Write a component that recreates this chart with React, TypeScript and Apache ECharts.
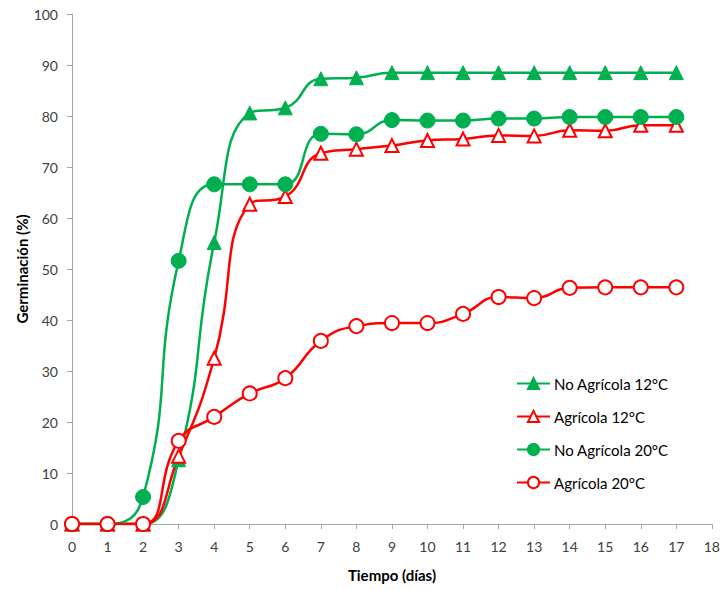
import React, { useEffect, useRef } from "react";
import * as echarts from "echarts";

const days = [0, 1, 2, 3, 4, 5, 6, 7, 8, 9, 10, 11, 12, 13, 14, 15, 16, 17];
const noAgr12 = [0, 0, 0, 12.6, 55.2, 80.6, 81.6, 87.3, 87.5, 88.5, 88.5, 88.5, 88.5, 88.5, 88.5, 88.5, 88.5, 88.5];
const agr12 = [0, 0, 0, 13.3, 32.5, 62.7, 64.2, 72.7, 73.5, 74.2, 75.2, 75.5, 76.2, 76.1, 77.2, 77.1, 78.2, 78.2];
const noAgr20 = [0, 0, 5.3, 51.6, 66.6, 66.6, 66.6, 76.5, 76.4, 79.2, 79.1, 79.1, 79.5, 79.5, 79.8, 79.8, 79.8, 79.8];
const agr20 = [0, 0, 0, 16.3, 21.0, 25.6, 28.6, 35.9, 38.8, 39.4, 39.4, 41.2, 44.5, 44.3, 46.3, 46.4, 46.4, 46.4];

const GREEN = "#00b050";
const RED = "#ff0000";
const FONT = "Lato, 'Open Sans', sans-serif";

const pairs = (ys: number[]) => days.map((d, i) => [d, ys[i]]);

export default function App() {
  const ref = useRef<HTMLDivElement>(null);
  useEffect(() => {
    if (!ref.current) return;
    const chart = echarts.init(ref.current, undefined, { renderer: "svg" });
    const mk = (name: string, data: number[], color: string, symbol: string, filled: boolean, size: number) => ({
      name,
      type: "line",
      data: pairs(data),
      smooth: 0.5,
      symbol,
      symbolSize: size,
      showAllSymbol: true,
      lineStyle: { color, width: 2.5 },
      itemStyle: filled
        ? { color, borderColor: color, borderWidth: 1 }
        : { color: "#ffffff", borderColor: color, borderWidth: 2 },
      emphasis: { disabled: true },
    });
    chart.setOption({
      animation: false,
      textStyle: { fontFamily: FONT },
      grid: { left: 72, right: 11, top: 14, bottom: 66, containLabel: false },
      legend: {
        orient: "vertical",
        left: 511,
        top: 371,
        itemWidth: 33,
        itemHeight: 14,
        itemGap: 18,
        textStyle: { fontFamily: FONT, fontSize: 15, color: "#000", padding: [0, 0, 0, -1] },
        data: ["No Agrícola 12°C", "Agrícola 12°C", "No Agrícola 20°C", "Agrícola 20°C"],
      },
      xAxis: {
        type: "value",
        min: 0,
        max: 18,
        interval: 1,
        name: "Tiempo (días)",
        nameLocation: "middle",
        nameGap: 43,
        nameTextStyle: { fontFamily: FONT, fontSize: 15, fontWeight: "bold", color: "#000" },
        axisLine: { show: true, lineStyle: { color: "#a6a6a6", width: 1 } },
        axisTick: { show: true, length: 5, lineStyle: { color: "#a6a6a6" } },
        axisLabel: { fontFamily: FONT, fontSize: 14, color: "#404040", margin: 15 },
        splitLine: { show: false },
      },
      yAxis: {
        type: "value",
        min: 0,
        max: 100,
        interval: 10,
        name: "Germinación (%)",
        nameLocation: "middle",
        nameGap: 43,
        nameMoveOverlap: false,
        nameRotate: 90,
        nameTextStyle: { fontFamily: FONT, fontSize: 15, fontWeight: "bold", color: "#000" },
        axisLine: { show: true, lineStyle: { color: "#a6a6a6", width: 1 } },
        axisTick: { show: true, length: 5, lineStyle: { color: "#a6a6a6" } },
        axisLabel: { fontFamily: FONT, fontSize: 14, color: "#404040", margin: 14 },
        splitLine: { show: false },
      },
      series: [
        mk("No Agrícola 12°C", noAgr12, GREEN, "triangle", true, 14),
        mk("Agrícola 12°C", agr12, RED, "triangle", false, 13),
        mk("No Agrícola 20°C", noAgr20, GREEN, "circle", true, 15),
        mk("Agrícola 20°C", agr20, RED, "circle", false, 14),
      ],
    });
    return () => chart.dispose();
  }, []);
  return <div ref={ref} style={{ width: 723, height: 590, position: "absolute", left: 0, top: 0 }} />;
}
